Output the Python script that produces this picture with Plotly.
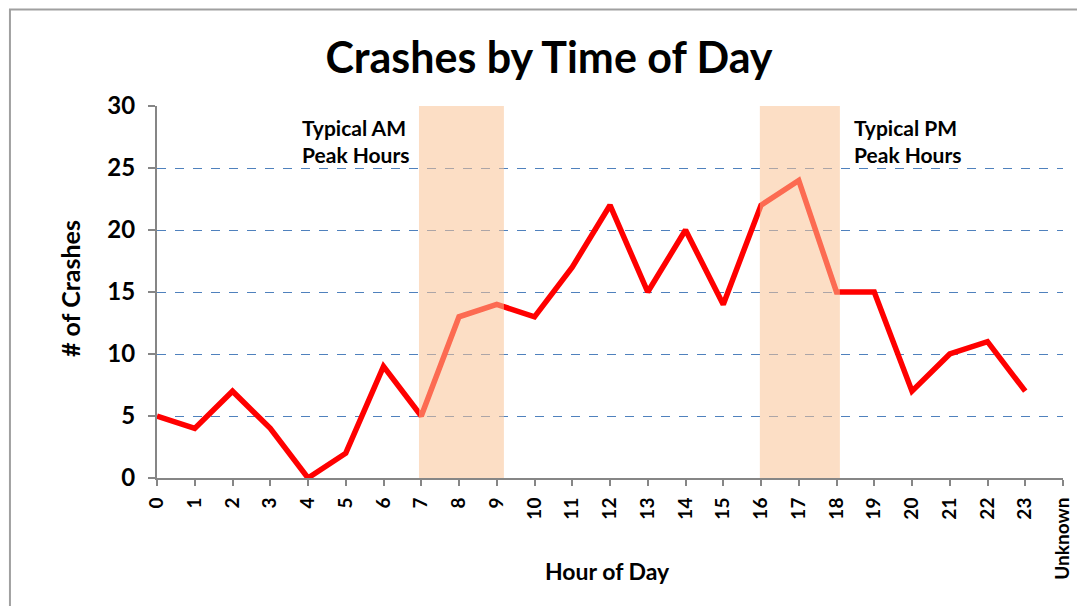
import plotly.graph_objects as go

hours = list(range(25))
hour_labels = [str(h) for h in range(24)] + ["Unknown"]
crashes = [5, 4, 7, 4, 0, 2, 9, 5, 13, 14, 13, 17, 22, 15, 20, 14, 22, 24, 15, 15, 7, 10, 11, 7, None]
am_peak = [6.94, 9.19]
pm_peak = [15.97, 18.09]

FONT = "Lato"

fig = go.Figure()
fig.add_trace(go.Scatter(x=hours, y=crashes, mode="lines",
                         line=dict(color="#FF0000", width=5.5), connectgaps=False,
                         showlegend=False))

for x0, x1 in (am_peak, pm_peak):
    fig.add_shape(type="rect", xref="x", yref="y", x0=x0, x1=x1, y0=-0.3, y1=30.3,
                  fillcolor="rgba(250,195,150,0.55)", line=dict(width=0), layer="above")

fig.add_annotation(x=0.158, y=27.18, xref="paper", yref="y", text="<b>Typical AM<br>Peak Hours</b>",
                   showarrow=False, xanchor="left", yanchor="middle", align="left",
                   font=dict(family=FONT, size=21, color="black"))
fig.add_annotation(x=0.767, y=27.18, xref="paper", yref="y", text="<b>Typical PM<br>Peak Hours</b>",
                   showarrow=False, xanchor="left", yanchor="middle", align="left",
                   font=dict(family=FONT, size=21, color="black"))

# axis titles
fig.add_annotation(x=0.497, y=-0.25, xref="paper", yref="paper", text="<b>Hour of Day</b>",
                   showarrow=False, xanchor="center", yanchor="middle",
                   font=dict(family=FONT, size=23, color="black"))
fig.add_annotation(x=-0.096, y=0.508, xref="paper", yref="paper", text="<b># of Crashes</b>",
                   showarrow=False, xanchor="center", yanchor="middle", textangle=-90,
                   font=dict(family=FONT, size=25, color="black"))

# outer chart border
fig.add_shape(type="rect", xref="paper", yref="paper", x0=-0.1623, x1=1.05, y0=-0.5, y1=1.2595,
              line=dict(color="#A0A0A0", width=2), fillcolor="rgba(0,0,0,0)")

fig.update_layout(
    width=1085, height=606,
    margin=dict(l=149, r=30, t=98, b=136),
    paper_bgcolor="white", plot_bgcolor="white",
    title=dict(text="<b>Crashes by Time of Day</b>", x=0.4986, xanchor="center",
               y=0.917, yanchor="middle",
               font=dict(family=FONT, size=43, color="black")),
    xaxis=dict(range=[0, 24], tickvals=hours, ticktext=hour_labels, tickangle=-90,
               showgrid=False, zeroline=False, showline=True, linecolor="#868686", linewidth=2,
               ticks="outside", ticklen=6, tickcolor="#868686", tickwidth=2,
               ticklabelstandoff=4, automargin=False,
               tickfont=dict(family=FONT, size=19, color="black", weight="bold")),
    yaxis=dict(range=[0, 30], tickvals=[0, 5, 10, 15, 20, 25, 30],
               showgrid=True, gridcolor="#4F81BD", gridwidth=1.4, griddash="dash",
               zeroline=False, showline=True, linecolor="#868686", linewidth=2,
               ticks="outside", ticklen=7, tickcolor="#868686", tickwidth=2,
               ticklabelstandoff=8, automargin=False,
               tickfont=dict(family=FONT, size=24, color="black", weight="bold")),
)

fig.write_html("out.html")
